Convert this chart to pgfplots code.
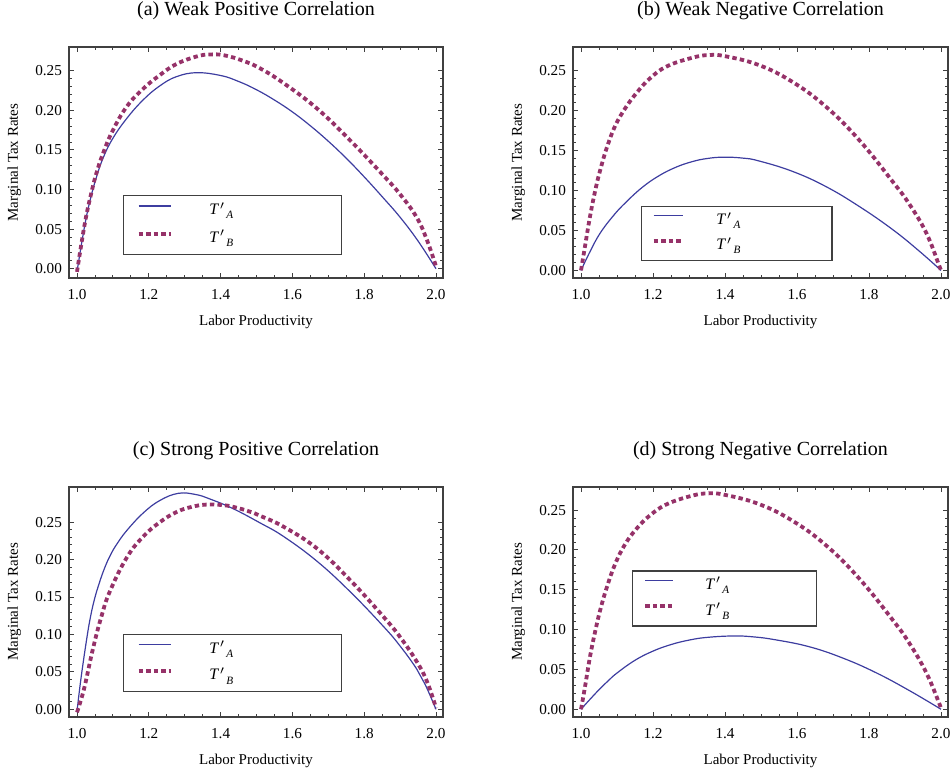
\documentclass[border=0pt]{standalone}
\usepackage{fontspec}
\setmainfont{Liberation Serif}
\usepackage{pgfplots}
\pgfplotsset{compat=1.18}
\definecolor{lineA}{RGB}{61,61,160}
\definecolor{lineB}{RGB}{150,50,105}
\colorlet{framecol}{black!75}
\newcommand{\tp}[1]{\textit{T}\kern0.3pt$'$\kern0.6pt\raisebox{-0.55ex}{\fontsize{5.6}{6}\selectfont\textit{#1}}}
\pgfplotsset{
  /pgfplots/leglen/.initial=16pt,
  panel/.style={
    scale only axis, width=187pt,
    xmin=0.9777, xmax=2.0195,
    xtick={1,1.2,1.4,1.6,1.8,2}, xticklabels={1.0,1.2,1.4,1.6,1.8,2.0},
    ytick={0,0.05,0.1,0.15,0.2,0.25}, yticklabels={0.00,0.05,0.10,0.15,0.20,0.25},
    minor x tick num=3, minor y tick num=4,
    tick align=inside, major tick length=2.5pt, minor tick length=1.3pt,
    axis line style={framecol, line width=0.6pt},
    every tick/.style={framecol, line width=0.45pt},
    tick label style={font=\fontsize{7.6}{9}\selectfont},
    xticklabel style={yshift=-2pt},
    label style={font=\fontsize{7.5}{9}\selectfont},
    xlabel={Labor Productivity}, ylabel={Marginal Tax Rates},
    xlabel style={at={(axis description cs:0.5,0)}, anchor=base, yshift=-24pt},
    ylabel style={at={(axis description cs:-0.1364,0.5)}, anchor=base},
    title style={font=\fontsize{10}{12}\selectfont, at={(axis description cs:0.5,1)}, anchor=base, yshift=9.5pt},
    legend cell align=left,
    legend image code/.code={\draw[##1] (0pt,2.5pt) -- (\pgfkeysvalueof{/pgfplots/leglen},2.5pt);},
    legend style={anchor=south west, draw=framecol, line width=0.6pt, fill=white,
      font=\fontsize{8}{9.6}\selectfont,
      nodes={inner sep=2pt, text height=5.4pt, text depth=1.6pt}},
  },
  curveA/.style={lineA, line width=0.6pt, smooth, tension=0.7},
  curveB/.style={lineB, line width=1.9pt, dash pattern=on 2.2pt off 1.6pt, smooth, tension=0.7},
}
\begin{document}
\begin{tikzpicture}
% (a)
\begin{axis}[panel, at={(34.5pt,248pt)}, anchor=south west, height=115.5pt,
  ymin=-0.0117, ymax=0.28, title={(a) Weak Positive Correlation},
  leglen=16pt,
  legend style={at={(rel axis cs:0.1444,0.0996)}, inner xsep=6.5pt, inner ysep=2.35pt, row sep=2.8pt}]
\addplot[curveA] table {
1.000 -0.004
1.011 0.027
1.025 0.063
1.039 0.091
1.053 0.114
1.072 0.139
1.099 0.164
1.139 0.190
1.185 0.2135
1.231 0.231
1.277 0.2425
1.333 0.2475
1.400 0.2440
1.450 0.2365
1.500 0.2260
1.550 0.2130
1.600 0.1980
1.650 0.1805
1.700 0.1610
1.750 0.1395
1.800 0.1160
1.850 0.0910
1.900 0.0650
1.950 0.0350
2.000 0.000
};
\addlegendentry{\makebox[74pt][l]{\hspace{16.5pt}\tp{A}}}
\addplot[curveB] table {
1.000 -0.004
1.011 0.028
1.025 0.065
1.039 0.094
1.053 0.119
1.072 0.145
1.099 0.174
1.139 0.205
1.185 0.2275
1.231 0.2446
1.277 0.2585
1.333 0.2680
1.370 0.2705
1.410 0.2695
1.463 0.2625
1.510 0.2530
1.575 0.2345
1.668 0.2025
1.760 0.1625
1.853 0.1180
1.900 0.0940
1.946 0.0650
1.975 0.0360
2.000 0.003
};
\addlegendentry{\makebox[74pt][l]{\hspace{16.5pt}\tp{B}}}
\end{axis}
% (b)
\begin{axis}[panel, at={(286.5pt,248pt)}, anchor=south west, width=187.5pt, height=115.5pt,
  ymin=-0.0095, ymax=0.2796, title={(b) Weak Negative Correlation},
  leglen=14.5pt,
  legend style={at={(rel axis cs:0.1805,0.0736)}, inner xsep=5.2pt, inner ysep=1.75pt, row sep=1.5pt}]
\addplot[curveA] table {
1.000 0.000
1.025 0.0235
1.053 0.0465
1.090 0.0685
1.123 0.0845
1.169 0.1035
1.215 0.1180
1.262 0.1288
1.308 0.1360
1.350 0.1400
1.396 0.1417
1.450 0.1405
1.494 0.1370
1.587 0.1240
1.680 0.1050
1.773 0.0800
1.866 0.0510
1.940 0.0240
2.000 0.000
};
\addlegendentry{\makebox[64.6pt][l]{\hspace{14pt}\tp{A}}}
\addplot[curveB] table {
1.000 0.000
1.011 0.030
1.025 0.0675
1.039 0.099
1.053 0.125
1.072 0.154
1.095 0.181
1.123 0.203
1.155 0.2225
1.192 0.2405
1.239 0.2555
1.308 0.2660
1.355 0.2695
1.401 0.2680
1.494 0.2570
1.587 0.2360
1.680 0.2050
1.773 0.1630
1.866 0.1110
1.912 0.0830
1.959 0.0470
1.995 0.006
2.000 0.000
};
\addlegendentry{\makebox[64.6pt][l]{\hspace{14pt}\tp{B}}}
\end{axis}
% (c)
\begin{axis}[panel, at={(34.5pt,28.5pt)}, anchor=south west, height=115pt,
  ymin=-0.0103, ymax=0.297, title={(c) Strong Positive Correlation},
  leglen=16pt,
  legend style={at={(rel axis cs:0.1444,0.1087)}, inner xsep=6.5pt, inner ysep=2.1pt, row sep=2.3pt}]
\addplot[curveA] table {
1.000 -0.004
1.005 0.018
1.015 0.055
1.029 0.100
1.037 0.122
1.045 0.140
1.055 0.158
1.065 0.173
1.078 0.190
1.092 0.205
1.110 0.220
1.139 0.239
1.185 0.2625
1.231 0.2790
1.282 0.2885
1.330 0.2870
1.370 0.2810
1.435 0.2680
1.510 0.2490
1.575 0.2310
1.668 0.1980
1.760 0.1575
1.853 0.1110
1.900 0.0845
1.946 0.0540
1.970 0.0330
2.000 0.000
};
\addlegendentry{\makebox[74pt][l]{\hspace{16.5pt}\tp{A}}}
\addplot[curveB] table {
1.000 -0.004
1.010 0.011
1.022 0.032
1.045 0.082
1.068 0.124
1.092 0.158
1.139 0.203
1.185 0.231
1.231 0.250
1.277 0.2635
1.320 0.2705
1.361 0.2735
1.400 0.2730
1.435 0.2705
1.482 0.2640
1.510 0.2585
1.575 0.2440
1.668 0.2150
1.760 0.1730
1.853 0.1240
1.900 0.0965
1.946 0.0640
1.975 0.0370
2.000 0.002
};
\addlegendentry{\makebox[74pt][l]{\hspace{16.5pt}\tp{B}}}
\end{axis}
% (d)
\begin{axis}[panel, at={(286.5pt,28.5pt)}, anchor=south west, width=187.5pt, height=115pt,
  ymin=-0.0097, ymax=0.279, title={(d) Strong Negative Correlation},
  leglen=13.7pt,
  legend style={at={(rel axis cs:0.158,0.3926)}, inner xsep=5.2pt, inner ysep=1.85pt, row sep=1.8pt}]
\addplot[curveA] table {
1.000 0.000
1.025 0.0125
1.050 0.0245
1.075 0.0355
1.100 0.0455
1.150 0.0615
1.200 0.0730
1.250 0.0812
1.300 0.0868
1.350 0.0902
1.424 0.0920
1.480 0.0908
1.540 0.0872
1.633 0.0786
1.726 0.0645
1.819 0.0460
1.912 0.0235
2.000 0.000
};
\addlegendentry{\makebox[61.9pt][l]{\hspace{13.5pt}\tp{A}}}
\addplot[curveB] table {
1.000 0.000
1.011 0.028
1.025 0.066
1.039 0.097
1.053 0.1240
1.072 0.1535
1.095 0.1825
1.123 0.2075
1.155 0.2270
1.192 0.2435
1.239 0.2575
1.308 0.2680
1.355 0.2710
1.401 0.2690
1.494 0.2576
1.587 0.2367
1.680 0.2060
1.773 0.1640
1.866 0.1120
1.912 0.0830
1.959 0.0460
1.995 0.0075
2.000 0.000
};
\addlegendentry{\makebox[61.9pt][l]{\hspace{13.5pt}\tp{B}}}
\end{axis}
\pgfresetboundingbox
\path[use as bounding box] (0pt,0pt) rectangle (475pt,387pt);
\end{tikzpicture}
\end{document}
